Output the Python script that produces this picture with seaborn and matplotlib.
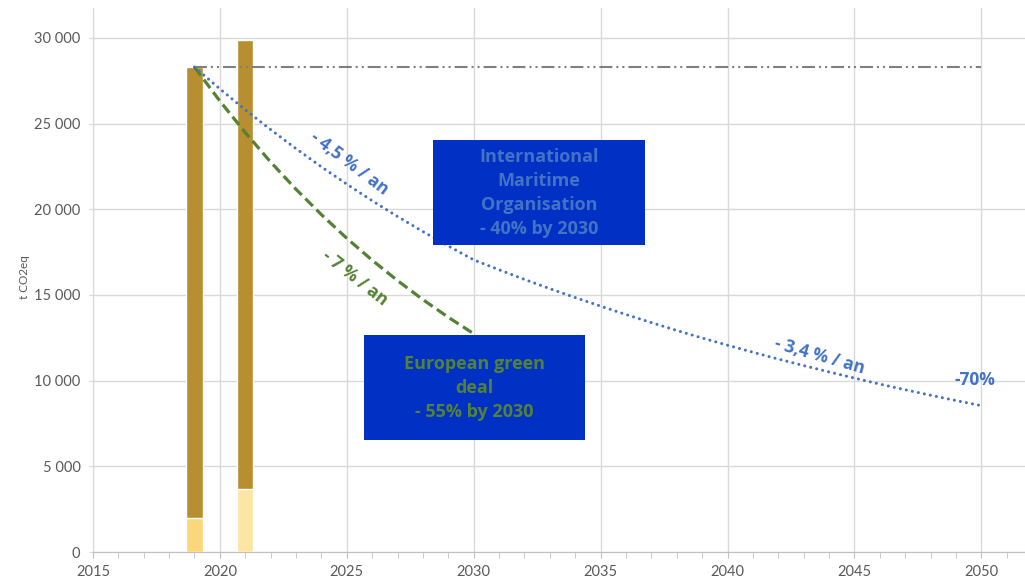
import seaborn as sns
import matplotlib.pyplot as plt
import matplotlib.ticker as mticker
from matplotlib.patches import Rectangle

# bars (t CO2eq)
bar_years = [2019, 2021]
bar_total = [28300, 29900]
bar_lower = [2000, 3700]
bar_lower_colors = ['#F9D77B', '#FCE5A5']

# flat reference level 2019 -> 2050
ref_years = [2019, 2050]
ref_values = [28300, 28300]

# IMO trajectory (-4,5 %/an to 2030, then -3,4 %/an)
imo_years = list(range(2019, 2051))
imo_values = [28300, 27030, 25810, 24650, 23540, 22480, 21470, 20500, 19580, 18700,
              17860, 17050, 16470, 15910, 15370, 14850, 14350, 13860, 13390, 12930,
              12490, 12070, 11660, 11260, 10880, 10510, 10150, 9800, 9470, 9150,
              8840, 8540]

# European green deal trajectory (-7 %/an)
eu_years = list(range(2019, 2031))
eu_values = [28300, 26320, 24480, 22760, 21170, 19690, 18310, 17030, 15840, 14730,
             13700, 12740]

blue_txt = '#4472C4'
green_txt = '#548235'
box_col = '#0131C4'
grey = '#595959'
bold_font = ['Open Sans', 'DejaVu Sans']

sns.set_style('white')
plt.rcParams['font.family'] = ['Lato', 'DejaVu Sans']

fig = plt.figure(figsize=(10.25, 5.79), dpi=100)
ax = fig.add_axes([0.0907, 0.0466, 0.9093, 0.9396])

# stacked bars
ax.bar(bar_years, bar_total, width=0.64, color='#B88F30', zorder=2)
ax.bar(bar_years, bar_lower, width=0.64, color=bar_lower_colors, zorder=3)

# reference level
sns.lineplot(x=ref_years, y=ref_values, ax=ax, color='#7F7F7F', lw=1.5,
             linestyle=(0, (6.2, 1.9, 1, 1.9, 1, 1.9)), zorder=4)
# trajectories
sns.lineplot(x=eu_years, y=eu_values, ax=ax, color='#548235', lw=2.3,
             linestyle=(0, (3.3, 1.6)), zorder=5)
sns.lineplot(x=imo_years, y=imo_values, ax=ax, color='#4472C4', lw=2.2,
             linestyle=(0, (0.01, 2.0)), dash_capstyle='round', zorder=5)

# boxes
ax.add_patch(Rectangle((2028.39, 17922), 8.35, 6128, facecolor=box_col,
                       edgecolor='none', zorder=6))
ax.text(2032.57, 20950, 'International\nMaritime\nOrganisation\n- 40% by 2030',
        ha='center', va='center', color=blue_txt, fontsize=13, fontweight='bold',
        family=bold_font, linespacing=1.42, zorder=7)
ax.add_patch(Rectangle((2025.68, 6538), 8.7, 6130, facecolor=box_col,
                       edgecolor='none', zorder=6))
ax.text(2030.03, 9560, 'European green\ndeal\n- 55% by 2030',
        ha='center', va='center', color=green_txt, fontsize=13, fontweight='bold',
        family=bold_font, linespacing=1.42, zorder=7)

# rate labels
lbl = dict(ha='center', va='center', fontsize=12.5, fontweight='bold',
           family=bold_font, rotation_mode='anchor', zorder=7)
ax.text(2025.12, 22709, '- 4,5 % / an', rotation=-37, color=blue_txt, **lbl)
ax.text(2025.32, 15995, '- 7 % / an', rotation=-38, color=green_txt, **lbl)
ax.text(2043.64, 11442, '- 3,4 % / an', rotation=-16, color=blue_txt, **lbl)
ax.text(2049.74, 10041, '-70%', color=blue_txt, **lbl)

# axes styling
ax.set_xlim(2015, 2051.72)
ax.set_ylim(0, 31750)
ax.xaxis.set_major_locator(mticker.MultipleLocator(5))
ax.xaxis.set_minor_locator(mticker.MultipleLocator(1))
ax.yaxis.set_major_locator(mticker.MultipleLocator(5000))
ax.yaxis.set_major_formatter(mticker.FuncFormatter(lambda v, p: f'{int(v):,}'.replace(',', ' ')))
ax.grid(True, which='major', color='#D9D9D9', lw=1)
ax.set_axisbelow(True)
for s in ['top', 'right']:
    ax.spines[s].set_visible(False)
ax.spines['left'].set_color('#D9D9D9')
ax.spines['bottom'].set_color('#BFBFBF')
ax.tick_params(axis='x', which='both', length=4, color='#BFBFBF', labelsize=10.5,
               labelcolor=grey, pad=5, bottom=True)
ax.tick_params(axis='y', length=3, color='#D9D9D9', labelsize=10.5, labelcolor=grey,
               pad=6, left=True)
ax.set_xlabel('')
ax.set_ylabel('t CO2eq', fontsize=8.5, color=grey)
ax.yaxis.set_label_coords(-0.068, 0.505)

fig.savefig('out.png', dpi=100)
